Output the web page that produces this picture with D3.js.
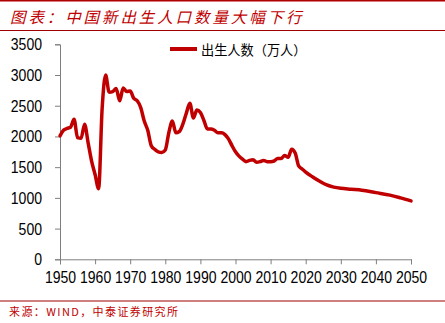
<!DOCTYPE html>
<html><head><meta charset="utf-8">
<script src="https://cdn.jsdelivr.net/npm/d3@7"></script>
<style>body{margin:0;background:#fff}svg{display:block}</style>
</head><body>
<script>
const titleText = "图表：中国新出生人口数量大幅下行";
const sourceText = "来源：WIND，中泰证券研究所";
const seriesName = "出生人数（万人）";
const years = [1950,1951,1952,1953,1954,1955,1956,1957,1958,1959,1960,1961,1962,1963,1964,1965,1966,1967,1968,1969,
 1970,1971,1972,1973,1974,1975,1976,1977,1978,1979,1980,1981,1982,1983,1984,1985,1986,1987,1988,1989,
 1990,1991,1992,1993,1994,1995,1996,1997,1998,1999,2000,2001,2002,2003,2004,2005,2006,2007,2008,2009,
 2010,2011,2012,2013,2014,2015,2016,2017,2018,2019,2020,2022,2024,2026,2028,2030,2033,2036,2040,2044,2047,2050];
const births = [2010,2100,2130,2150,2280,1980,1970,2200,1900,1600,1380,1150,2450,3000,2720,2730,2780,2580,2790,2730,
 2740,2620,2580,2470,2250,2100,1850,1790,1750,1740,1780,2060,2250,2060,2080,2200,2380,2540,2300,2430,
 2390,2260,2120,2120,2100,2060,2060,2030,1960,1850,1750,1680,1630,1590,1610,1620,1580,1590,1610,1590,
 1590,1600,1640,1640,1690,1660,1790,1730,1520,1470,1420,1340,1270,1210,1175,1155,1140,1125,1085,1045,1000,950];
const xTicks = [1950,1960,1970,1980,1990,2000,2010,2020,2030,2040,2050];
const yTicks = [0,500,1000,1500,2000,2500,3000,3500];

const W = 445, H = 323;
const svg = d3.select("body").append("svg").attr("width", W).attr("height", H);
const red = "#c00000";

svg.append("rect").attr("x",0).attr("y",0).attr("width",W).attr("height",1.5).attr("fill","#b00000");
svg.append("text").attr("x",10).attr("y",23).text(titleText)
  .attr("fill",red).attr("font-family","'Noto Sans CJK SC'").attr("font-size",15.5)
  .attr("font-style","italic").attr("letter-spacing",2.9);
svg.append("rect").attr("x",0).attr("y",30).attr("width",W).attr("height",1).attr("fill","#a00000");

const x = d3.scaleLinear().domain([1950,2050]).range([60,411]);
const y = d3.scaleLinear().domain([0,3500]).range([259.3,44.3]);

const axisColor = "#7f7f7f";
const gx = svg.append("g").attr("transform","translate(0,259.3)")
  .call(d3.axisBottom(x).tickValues(xTicks).tickFormat(d3.format("d")).tickSize(5).tickPadding(4));
const gy = svg.append("g").attr("transform","translate(60,0)")
  .call(d3.axisLeft(y).tickValues(yTicks).tickFormat(d3.format("d")).tickSize(5).tickPadding(13));
[gx,gy].forEach(g=>{
  g.select(".domain").attr("stroke",axisColor);
  g.selectAll(".tick line").attr("stroke",axisColor);
  g.selectAll("text").attr("fill","#000").attr("font-family","'Liberation Sans',Arial,sans-serif").attr("font-size",17)
    .attr("lengthAdjust","spacingAndGlyphs").attr("textLength",function(){return this.textContent.length*7.8;});
});
gx.selectAll("text").attr("dy","0.85em");

const line = d3.line().x((d,i)=>x(years[i])).y(d=>y(d)).curve(d3.curveMonotoneX);
svg.append("path").datum(births).attr("d",line).attr("fill","none")
  .attr("stroke",red).attr("stroke-width",3.5).attr("stroke-linejoin","round").attr("stroke-linecap","round");

svg.append("line").attr("x1",170).attr("x2",197).attr("y1",49).attr("y2",49).attr("stroke",red).attr("stroke-width",4);
svg.append("text").attr("x",201).attr("y",54.5).text(seriesName)
  .attr("font-family","'Noto Sans CJK SC'").attr("font-size",13.2).attr("fill","#000");

svg.append("rect").attr("x",0).attr("y",300.5).attr("width",W).attr("height",1).attr("fill","#a00000");
svg.append("text").attr("x",9).attr("y",315.5).text(sourceText)
  .attr("font-family","'Noto Sans CJK SC'").attr("font-size",11).attr("letter-spacing",1.4).attr("fill",red);
</script>
</body></html>
